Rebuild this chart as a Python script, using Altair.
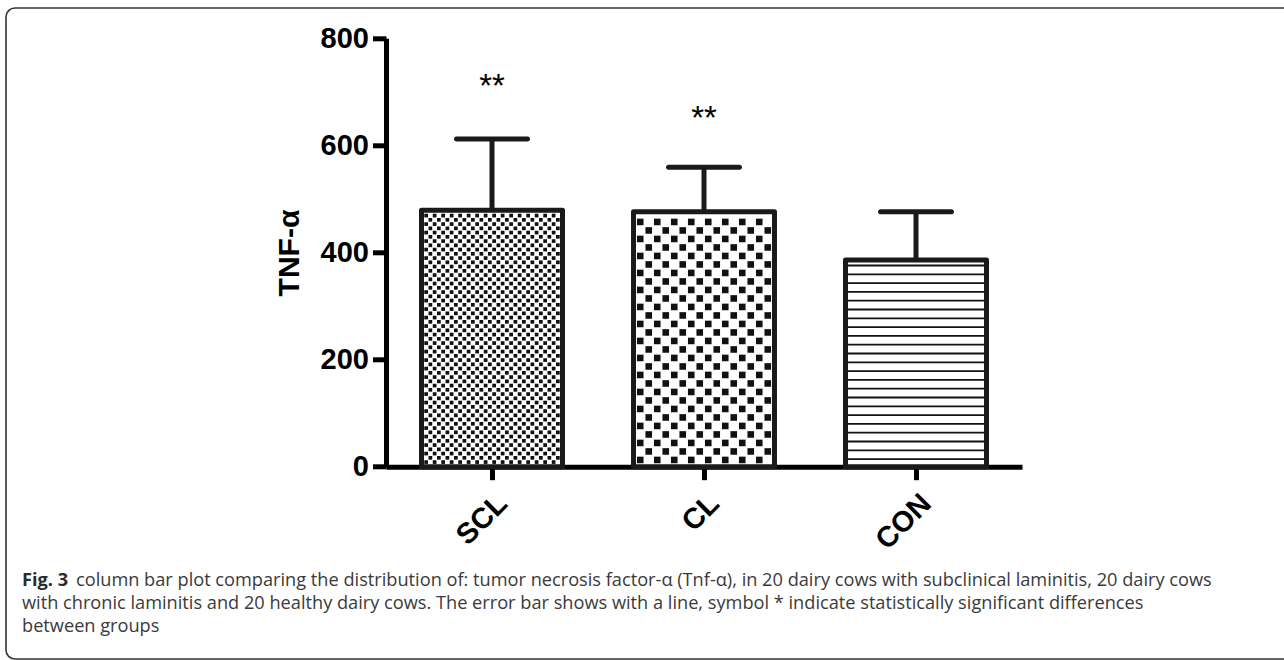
import altair as alt
import pandas as pd

# ---- data ----
groups = ["SCL", "CL", "CON"]
means = [479, 476, 386]
upper = [612, 559, 476]
stars = ["**", "**", ""]
star_y = [690, 631, None]
y_ticks = [0, 200, 400, 600, 800]
fills = ["fine", "coarse", "lines"]

caption_bold = "Fig. 3"
caption_lines = [
    "column bar plot comparing the distribution of: tumor necrosis factor-\u03b1 (Tnf-\u03b1), in 20 dairy cows with subclinical laminitis, 20 dairy cows",
    "with chronic laminitis and 20 healthy dairy cows. The error bar shows with a line, symbol * indicate statistically significant differences",
    "between groups",
]

# ---- layout ----
W, H = 636, 428.4
LEFT, TOP = 386, 38.3
YMAX = 800
n = len(groups)
step = W / n                 # px per category
bw = 141                     # bar width in px
half = bw / 2 / step         # half bar width in x units
ppu = H / YMAX
ppx = step                   # px per x unit
SW = 5

bars = pd.DataFrame({"group": groups, "pos": list(range(n)), "mean": means,
                     "upper": upper, "star": stars, "star_y": star_y, "fill": fills})

# pattern textures derived from the bar heights
sq_rows, line_rows = [], []
for i, (g, m, f) in enumerate(zip(groups, means, fills)):
    top_px = m * ppu
    if f in ("fine", "coarse"):
        cell = 4.25 if f == "fine" else 8.5
        sq = 3.7 if f == "fine" else 6.6
        ncols = int((bw - SW) // cell)
        x0 = -(ncols * cell) / 2
        nrows = int((top_px - SW) // cell)
        for r in range(nrows):
            for c in range(ncols):
                if (r + c) % 2 == 0:
                    sq_rows.append({"xv": i + (x0 + (c + 0.5) * cell) / ppx,
                                    "yv": (SW / 2 + (r + 0.5) * cell) / ppu,
                                    "sz": sq * sq})
    else:
        yp = top_px + SW / 2 - 8
        while yp > 4:
            line_rows.append({"xv": i, "yv": yp / ppu})
            yp -= 8.8
squares = pd.DataFrame(sq_rows)
stripes = pd.DataFrame(line_rows)

label_expr = "[" + ",".join("'%s'" % g for g in groups) + "][round(datum.value)]"
xscale = alt.Scale(domain=[-0.5, n - 0.5], nice=False, zero=False)
xaxis = alt.Axis(title=None, values=list(range(n)), labelExpr=label_expr, labelAngle=-45,
                 labelFont="Liberation Sans", labelFontWeight="bold", labelFontSize=29,
                 labelColor="black", domainColor="black", domainWidth=SW,
                 tickColor="black", tickWidth=SW, tickSize=13, labelPadding=9,
                 grid=False, labelFlush=False)
yscale = alt.Scale(domain=[0, YMAX], nice=False, zero=True)
yaxis = alt.Axis(title="TNF-\u03b1", values=y_ticks, grid=False,
                 labelFont="Liberation Sans", labelFontWeight="bold", labelFontSize=29,
                 labelColor="black", labelPadding=4, domainColor="black",
                 domainWidth=SW, tickColor="black", tickWidth=SW, tickSize=13.5,
                 titleFont="Liberation Sans", titleFontWeight="bold", titleFontSize=30,
                 titleColor="black", titlePadding=16)


def X(field):
    return alt.X(field, scale=xscale, axis=xaxis)


def Y(field):
    return alt.Y(field, scale=yscale, axis=yaxis)


base = alt.Chart(bars).transform_calculate(
    x0="datum.pos - %f" % half, x1="datum.pos + %f" % half, zero="0")

bar_fill = base.mark_rect(fill="white").encode(
    x=X("x0:Q"), x2="x1:Q", y=Y("mean:Q"), y2="zero:Q")

sq_layer = alt.Chart(squares).mark_square(color="#111", opacity=1, filled=True).encode(
    x=X("xv:Q"), y=Y("yv:Q"), size=alt.Size("sz:Q", scale=None, legend=None))

stripe_layer = alt.Chart(stripes).mark_tick(
    orient="horizontal", color="#111", size=bw - SW, thickness=1.8, opacity=1
).encode(x=X("xv:Q"), y=Y("yv:Q"))

err = base.mark_rule(color="#1a1a1a", strokeWidth=SW).encode(
    x=X("pos:Q"), y=Y("mean:Q"), y2="upper:Q")
cap = base.mark_tick(orient="horizontal", color="#1a1a1a", size=76, thickness=SW,
                     cornerRadius=2.5, opacity=1).encode(x=X("pos:Q"), y=Y("upper:Q"))

outline = base.mark_rect(fillOpacity=0, stroke="#1a1a1a", strokeWidth=SW,
                         strokeJoin="round").encode(
    x=X("x0:Q"), x2="x1:Q", y=Y("mean:Q"), y2="zero:Q")

star_layer = base.transform_filter("datum.star != ''").mark_text(
    font="Liberation Sans", fontSize=33, baseline="alphabetic", color="black"
).encode(x=X("pos:Q"), y=Y("star_y:Q"), text="star:N")

# decorative frame and caption
one = pd.DataFrame({"k": [0]})
frame = alt.Chart(one).mark_rect(fillOpacity=0, stroke="#333", strokeWidth=1.6,
                                 cornerRadius=9).encode(
    x=alt.value(6 - LEFT), x2=alt.value(1340 - LEFT),
    y=alt.value(8 - TOP), y2=alt.value(659 - TOP))

cap_font = "Open Sans"
cap_size = 18.2
cap_y0 = 581 - TOP
cap_dy = 23
cap_x = 22 - LEFT
fig_lbl = alt.Chart(one).mark_text(font=cap_font, fontSize=cap_size, fontWeight="bold",
                                   align="left", baseline="middle", color="#2b2b2b").encode(
    x=alt.value(cap_x), y=alt.value(cap_y0), text=alt.value(caption_bold))
cap_layers = []
for i, line in enumerate(caption_lines):
    xoff = cap_x + (54 if i == 0 else 0)
    cap_layers.append(alt.Chart(one).mark_text(font=cap_font, fontSize=cap_size,
                                               align="left", baseline="middle",
                                               color="#3a3a3a").encode(
        x=alt.value(xoff), y=alt.value(cap_y0 + i * cap_dy), text=alt.value(line)))

chart = alt.layer(bar_fill, sq_layer, stripe_layer, err, cap, outline, star_layer,
                  frame, fig_lbl, *cap_layers).properties(
    width=W, height=H,
    autosize=alt.AutoSizeParams(type="none"),
    padding={"left": LEFT, "top": TOP, "right": 1284 - LEFT - W, "bottom": 660 - TOP - H},
    background="white",
).configure_view(stroke=None)

chart.save("out.html", embed_options={"renderer": "svg", "actions": False})
